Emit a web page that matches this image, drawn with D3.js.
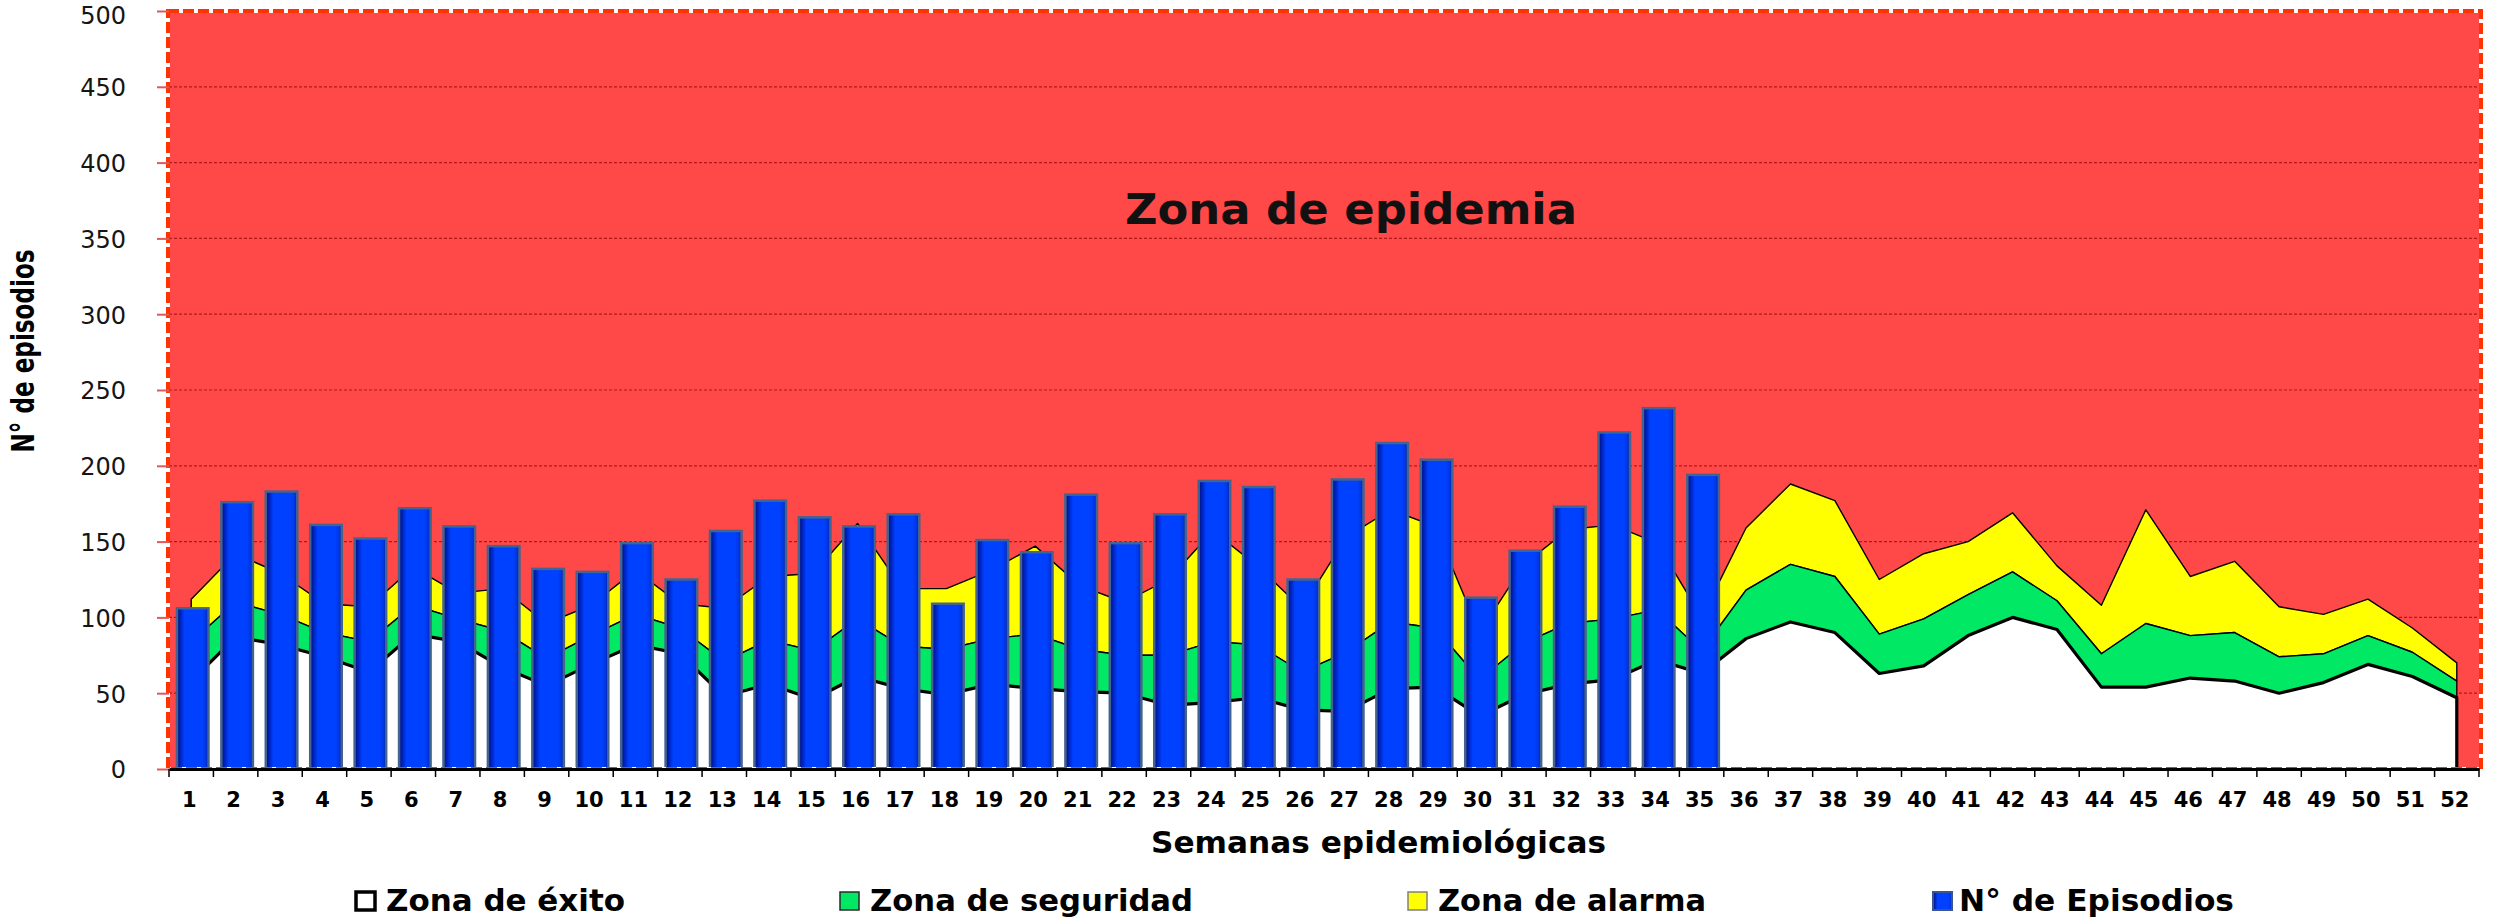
<!DOCTYPE html>
<html><head><meta charset="utf-8">
<script src="https://cdn.jsdelivr.net/npm/d3@7"></script>
<style>html,body{margin:0;padding:0;background:#fff;} svg{display:block;}</style>
</head><body>
<svg id="chart" width="2496" height="918"></svg>
<script>
// ---------- DATA ----------
const weeks = d3.range(1, 53).map(String);
const episodios = [106,176,183,161,152,172,160,147,132,130,149,125,157,177,166,160,168,109,151,143,
  181,149,168,190,186,125,191,215,204,113,144,173,222,238,194];
// cumulative upper limits of each zone
const limiteExito = [58,87,82,74,64,89,84,67,55,69,82,76,48,56,46,61,53,49,56,53,51,50,42,44,47,39,
  38,53,54,35,49,56,59,72,63,86,97,90,63,68,88,100,92,54,54,60,58,50,57,69,61,47];
const limiteSeguridad = [84,110,102,90,84,108,99,91,73,88,102,93,71,85,78,99,81,79,86,89,79,75,75,84,82,64,
  77,97,93,59,83,96,99,105,78,118,135,127,89,99,115,130,111,76,96,88,90,74,76,88,77,58];
const limiteAlarma = [112,142,129,109,107,133,116,119,96,108,131,109,106,127,129,162,119,119,131,147,121,110,125,157,134,106,
  153,171,160,90,135,158,161,149,100,159,188,177,125,142,150,169,134,108,171,127,137,107,102,112,93,70];
const yTicks = [0,50,100,150,200,250,300,350,400,450,500];
const legendLabels = ["Zona de éxito","Zona de seguridad","Zona de alarma","N° de Episodios"];
const zoneLabel = "Zona de epidemia";
const xTitle = "Semanas epidemiológicas";
const yTitle = "N° de episodios";

// ---------- LAYOUT ----------
const svg = d3.select("#chart");
const P = {left:169, right:2479, top:11, bottom:769};
const x = d3.scaleBand().domain(weeks).range([P.left, P.right]).paddingInner(0.29).paddingOuter(0.145);
const y = d3.scaleLinear().domain([0, 500]).range([P.bottom, P.top]);
const cx = w => x(w) + x.bandwidth()/2;

const defs = svg.append("defs");
const g = defs.append("linearGradient").attr("id","barGrad").attr("x1",0).attr("x2",1).attr("y1",0).attr("y2",0);
[[0,"#001272"],[0.1,"#0020b8"],[0.24,"#0040ff"],[0.8,"#0040ff"],[0.92,"#0036e0"],[1,"#001a90"]]
  .forEach(([o,c]) => g.append("stop").attr("offset",o).attr("stop-color",c));

// red background (Zona de epidemia)
svg.append("rect").attr("x",P.left).attr("y",P.top).attr("width",P.right-P.left).attr("height",P.bottom-P.top)
  .attr("fill","#FF4848");

// gridlines
svg.append("g").selectAll("line").data(yTicks.filter(d=>d>0)).join("line")
  .attr("x1",P.left).attr("x2",P.right).attr("y1",d=>y(d)).attr("y2",d=>y(d))
  .attr("stroke","#b01818").attr("stroke-width",1.2).attr("stroke-dasharray","3,2");

// zone label
svg.append("text").attr("x",1351).attr("y",224).attr("text-anchor","middle")
  .attr("font-family","DejaVu Sans").attr("font-weight","bold").attr("font-size",42)
  .attr("textLength",452).attr("lengthAdjust","spacingAndGlyphs")
  .attr("fill","#111").text(zoneLabel);

// areas
const rows = weeks.map((w,i)=>({w, e:limiteExito[i], s:limiteSeguridad[i], a:limiteAlarma[i]}));
const mk = (lo, hi) => d3.area().x(d=>cx(d.w)).y0(d=>y(lo(d))).y1(d=>y(hi(d)));
const ag = svg.append("g");
ag.append("path").datum(rows).attr("d", mk(d=>d.s, d=>d.a))
  .attr("fill","#FFFF00").attr("stroke","#000").attr("stroke-width",1.4).attr("stroke-linejoin","round");
ag.append("path").datum(rows).attr("d", mk(d=>d.e, d=>d.s))
  .attr("fill","#00E864").attr("stroke","#000").attr("stroke-width",1.4).attr("stroke-linejoin","round");
ag.append("path").datum(rows).attr("d", mk(d=>0, d=>d.e))
  .attr("fill","#FFFFFF").attr("stroke","#000").attr("stroke-width",3.2).attr("stroke-linejoin","round");

// bars
svg.append("g").selectAll("rect").data(episodios).join("rect")
  .attr("x",(d,i)=>x(weeks[i])+1.5).attr("width",x.bandwidth())
  .attr("y",d=>y(d)).attr("height",d=>y(0)-y(d))
  .attr("fill","url(#barGrad)").attr("stroke","#45638f").attr("stroke-width",2.5);

// plot border (dashed red)
svg.append("rect").attr("x",168).attr("y",11).attr("width",2481-168).attr("height",769-11)
  .attr("fill","none").attr("stroke","#fff").attr("stroke-width",4);
svg.append("rect").attr("x",168).attr("y",11).attr("width",2481-168).attr("height",769-11)
  .attr("fill","none").attr("stroke","#ff3300").attr("stroke-width",4).attr("stroke-dasharray","11,4");

// y axis
const yAxis = svg.append("g").attr("transform",`translate(${P.left},0)`)
  .call(d3.axisLeft(y).tickValues(yTicks).tickSize(12).tickPadding(31));
yAxis.select(".domain").remove();
yAxis.selectAll(".tick line").attr("stroke","#e05858").attr("stroke-width",2);
yAxis.selectAll(".tick text").attr("font-family","DejaVu Sans").attr("font-size",24)
  .attr("dy", d => d === 500 ? "0.5em" : "0.37em").attr("fill","#151515");

// x axis
const xAxis = svg.append("g").attr("transform",`translate(0,${P.bottom})`)
  .call(d3.axisBottom(x).tickSize(0).tickPadding(20));
xAxis.select(".domain").attr("stroke","#000").attr("stroke-width",3);
xAxis.selectAll(".tick text").attr("font-family","DejaVu Sans").attr("font-weight","bold")
  .attr("font-size",21).attr("fill","#000").attr("dy",0).attr("y",38).attr("dx",-2);
svg.append("g").selectAll("line").data(d3.range(weeks.length+1)).join("line")
  .attr("x1",i=>P.left+i*x.step()).attr("x2",i=>P.left+i*x.step())
  .attr("y1",P.bottom).attr("y2",P.bottom+8).attr("stroke","#000").attr("stroke-width",1.5);

// axis titles
svg.append("text").attr("x",1151).attr("y",853)
  .attr("font-family","DejaVu Sans").attr("font-weight","bold").attr("font-size",31)
  .attr("textLength",455).attr("lengthAdjust","spacingAndGlyphs").attr("fill","#000").text(xTitle);
svg.append("text").attr("transform","translate(34,351) rotate(-90)").attr("text-anchor","middle")
  .attr("font-family","DejaVu Sans").attr("font-weight","bold").attr("font-size",32)
  .attr("textLength",203).attr("lengthAdjust","spacingAndGlyphs").attr("fill","#000").text(yTitle);

// legend
const legPos = [[356,386,239],[840,870,323],[1408,1438,268],[1933,1959,275]];
const legStyle = [
  {fill:"#fff", stroke:"#000", sw:3.5},
  {fill:"#00E864", stroke:"#2a2a2a", sw:1.5},
  {fill:"#FFFF00", stroke:"#808080", sw:1.5},
  {fill:"url(#barGrad)", stroke:"#3a5590", sw:2}
];
const lg = svg.append("g").selectAll("g").data(legendLabels).join("g");
lg.append("rect").attr("x",(d,i)=>legPos[i][0]).attr("y",892).attr("width",19).attr("height",18)
  .attr("fill",(d,i)=>legStyle[i].fill).attr("stroke",(d,i)=>legStyle[i].stroke).attr("stroke-width",(d,i)=>legStyle[i].sw);
lg.append("text").attr("x",(d,i)=>legPos[i][1]).attr("y",911)
  .attr("font-family","DejaVu Sans").attr("font-weight","bold").attr("font-size",31)
  .attr("textLength",(d,i)=>legPos[i][2]).attr("lengthAdjust","spacingAndGlyphs").attr("fill","#000").text(d=>d);
</script>
</body></html>
